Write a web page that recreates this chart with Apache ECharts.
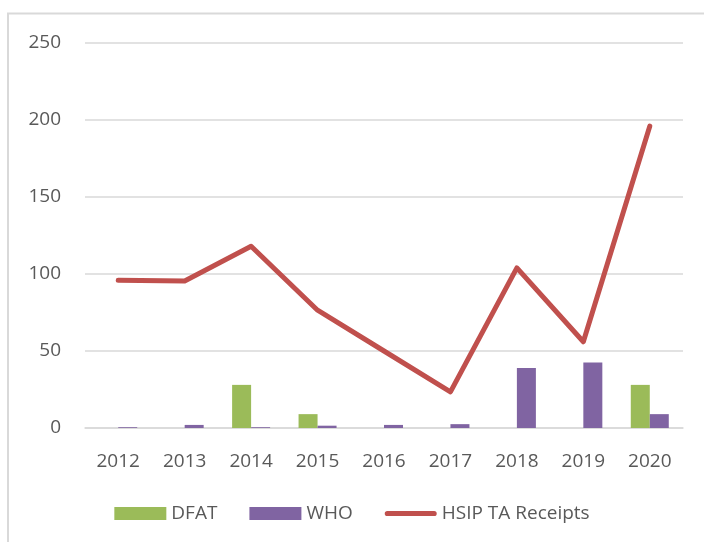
<!DOCTYPE html>
<html>
<head>
<meta charset="utf-8">
<script src="https://cdn.jsdelivr.net/npm/echarts@6/dist/echarts.min.js"></script>
<style>
  html, body { margin: 0; padding: 0; background: #fff; }
  #chart { width: 704px; height: 542px; }
</style>
</head>
<body>
<div id="chart"></div>
<script>
var years = ['2012', '2013', '2014', '2015', '2016', '2017', '2018', '2019', '2020'];
var dfat = [0, 0, 28, 9, 0, 0, 0, 0, 28];
var who = [0.5, 2, 0.5, 1.5, 2, 2.5, 39, 42.5, 9];
var receipts = [96, 95.5, 118, 76.5, 50, 23.5, 104, 56, 196];
var yTicks = [0, 50, 100, 150, 200, 250];

var font = '"Open Sans", "Liberation Sans", sans-serif';
var textColor = '#595959';
var fontSize = 19;

var chart = echarts.init(document.getElementById('chart'), null, { renderer: 'canvas' });

chart.setOption({
  animation: false,
  textStyle: { fontFamily: font },
  graphic: [
    {
      // outer frame (only top/left visible in the original)
      type: 'polyline',
      shape: { points: [[8, 560], [8, 13.5], [720, 13.5]] },
      style: { stroke: '#D9D9D9', lineWidth: 2, fill: null },
      silent: true
    }
  ],
  grid: { left: 85, right: 21, top: 43, bottom: 114 },
  legend: {
    top: 499,
    left: 'center',
    itemWidth: 52,
    itemHeight: 13,
    itemGap: 32,
    textStyle: { color: textColor, fontSize: fontSize, fontFamily: font },
    data: [
      { name: 'DFAT', icon: 'rect' },
      { name: 'WHO', icon: 'rect' },
      { name: 'HSIP TA Receipts', icon: 'path://M5,0 H95 A5,5 0 0 1 95,10 H5 A5,5 0 0 1 5,0 Z' }
    ]
  },
  xAxis: {
    type: 'category',
    data: years,
    axisLine: { lineStyle: { color: '#D9D9D9', width: 1.5 } },
    axisTick: { show: false },
    axisLabel: { color: textColor, fontSize: fontSize, margin: 24, fontFamily: font }
  },
  yAxis: {
    type: 'value',
    min: 0,
    max: yTicks[yTicks.length - 1],
    interval: 50,
    axisLine: { show: false },
    axisTick: { show: false },
    splitLine: { lineStyle: { color: '#D9D9D9', width: 1.5 } },
    axisLabel: { color: textColor, fontSize: fontSize, margin: 24, fontFamily: font }
  },
  series: [
    {
      name: 'DFAT',
      type: 'bar',
      data: dfat,
      barWidth: 19,
      barGap: '0%',
      itemStyle: { color: '#9BBB59' }
    },
    {
      name: 'WHO',
      type: 'bar',
      data: who,
      barWidth: 19,
      barGap: '0%',
      itemStyle: { color: '#8064A2' }
    },
    {
      name: 'HSIP TA Receipts',
      type: 'line',
      data: receipts,
      symbol: 'none',
      lineStyle: { color: '#C0504D', width: 5, cap: 'round', join: 'round' },
      itemStyle: { color: '#C0504D' },
      z: 5
    }
  ]
});
</script>
</body>
</html>
